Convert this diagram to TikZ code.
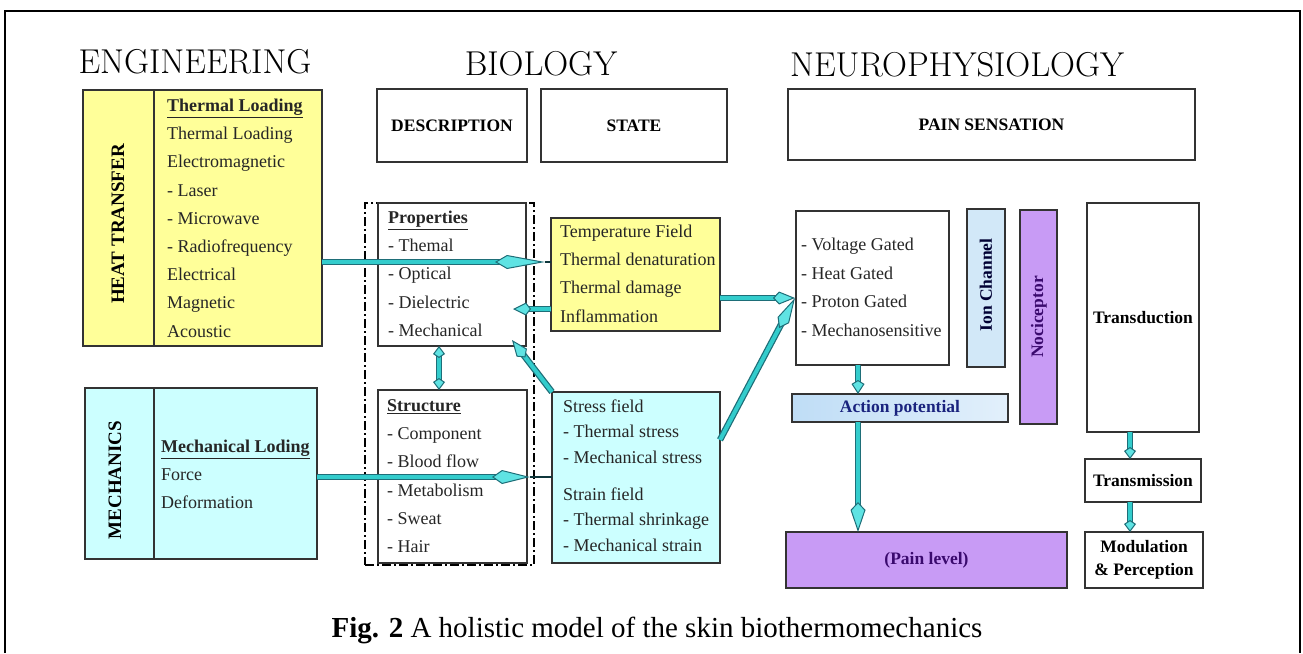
\documentclass[tikz,border=0pt]{standalone}
\usepackage{fontspec}
\newfontfamily\tnr{Liberation Serif}
\usetikzlibrary{arrows.meta,calc}
\definecolor{ylw}{HTML}{FFFF99}
\definecolor{cyb}{HTML}{CCFFFF}
\definecolor{ionb}{HTML}{D2E8F8}
\definecolor{apb}{HTML}{BFDDF6}
\definecolor{purp}{HTML}{C89BF5}
\definecolor{arrc}{HTML}{33CCCC}
\definecolor{arrd}{HTML}{1E6E78}
\definecolor{arrh}{HTML}{5FE3E3}
\definecolor{dpurp}{HTML}{3A0A6E}
\definecolor{navy2}{HTML}{1A237E}
\definecolor{edge}{HTML}{333333}
\newcommand\lns[1]{\begin{tabular}[t]{@{}l@{}}#1\end{tabular}}
\newcommand\mkbox[7]{\node[#1, minimum width={#5pt-#3pt}, minimum height={#6pt-#4pt}] (#2) at ({(#3+#5)/2},{(#4+#6)/2}) {#7};}
\begin{document}
\begin{tikzpicture}[x=1pt,y=-1pt,
 bx/.style={draw=edge, line width=1.8pt, inner sep=0pt, outer sep=0pt},
 lbl/.style={font=\tnr\bfseries\fontsize{17.5}{23}\selectfont, align=center},
 body/.style={font=\tnr\fontsize{18}{28.2}\selectfont, inner sep=0pt, anchor=base west, text=black!85},
 head/.style={font=\fontsize{34.5}{38}\selectfont, inner sep=0pt},
 vert/.style={rotate=90, inner sep=0pt, font=\tnr\bfseries\fontsize{19}{22}\selectfont},
 flow/.style n args={3}{draw=arrc, line width=0.8pt,
   -{Kite[length=#1pt, width=#2pt, inset=#3pt, fill=arrh, color=arrd, line width=1pt]},
   preaction={draw=arrd, line width=6.5pt, arrows=-, shorten >={#1pt-#3pt}},
   preaction={draw=arrc, line width=4pt, arrows=-, shorten >={#1pt-#3pt}}},
 flowd/.style n args={3}{draw=arrc, line width=0.8pt,
   {Kite[length=#1pt, width=#2pt, inset=#3pt, fill=arrh, color=arrd, line width=1pt]}-{Kite[length=#1pt, width=#2pt, inset=#3pt, fill=arrh, color=arrd, line width=1pt]},
   preaction={draw=arrd, line width=6.5pt, arrows=-, shorten >={#1pt-#3pt}, shorten <={#1pt-#3pt}},
   preaction={draw=arrc, line width=4pt, arrows=-, shorten >={#1pt-#3pt}, shorten <={#1pt-#3pt}}},
 thinl/.style={draw=arrd!50!black, line width=1.2pt}]
\useasboundingbox (0,0) rectangle (1303,653);
\draw[line width=1.4pt] (5,653) -- (5,11) -- (1300,11) -- (1300,653);
% headings
\node[head] (eng) at (195,62) {ENGINEERING};
\node[head] (bio) at (541,64) {BIOLOGY};
\node[head] (neuro) at (957,65) {NEUROPHYSIOLOGY};
% engineering boxes
\mkbox{bx,fill=ylw}{heatL}{83}{90}{154}{346}{}
\mkbox{bx,fill=ylw}{heatR}{154}{90}{322}{346}{}
\mkbox{bx,fill=cyb}{mechL}{85}{388}{154}{559}{}
\mkbox{bx,fill=cyb}{mechR}{154}{388}{317}{559}{}
\node[vert] (heatT) at (118,224) {HEAT TRANSFER};
\node[vert] (mechT) at (115,480) {MECHANICS};
\node[body] (heatList) at (167,111.5) {\lns{\underline{\textbf{Thermal Loading}}\\Thermal Loading\\Electromagnetic\\- Laser\\- Microwave\\- Radiofrequency\\Electrical\\Magnetic\\Acoustic}};
\node[body] (mechList) at (161,452.5) {\lns{\underline{\textbf{Mechanical Loding}}\\Force\\Deformation}};
% biology
\mkbox{bx,lbl}{desc}{377}{89}{527}{162}{DESCRIPTION}
\mkbox{bx,lbl}{state}{541}{89}{727}{162}{STATE}
\mkbox{draw=black, line width=1.4pt, dash pattern=on 9pt off 3pt on 2pt off 3pt, inner sep=0pt}{bioframe}{365}{203}{534}{565}{}
\mkbox{bx,fill=white}{props}{378}{203}{526}{346}{}
\mkbox{bx,fill=white}{struct}{378}{390}{527}{563}{}
\mkbox{bx,fill=ylw}{temp}{551}{218}{720}{331}{}
\mkbox{bx,fill=cyb}{stress}{552}{392}{720}{563}{}
\node[body] (propList) at (388,223.5) {\lns{\underline{\textbf{Properties}}\\- Themal\\- Optical\\- Dielectric\\- Mechanical}};
\node[body] (structList) at (387,411.5) {\lns{\underline{\textbf{Structure}}\\- Component\\- Blood flow\\- Metabolism\\- Sweat\\- Hair}};
\node[body] (tempList) at (560,237.5) {\lns{Temperature Field\\Thermal denaturation\\Thermal damage\\Inflammation}};
\node[body, font=\tnr\fontsize{18}{25.4}\selectfont] (stressList) at (563,412.5) {\lns{Stress field\\- Thermal stress\\- Mechanical stress\\[11.5pt]Strain field\\- Thermal shrinkage\\- Mechanical strain}};
% neurophysiology
\mkbox{bx,lbl}{painsens}{788}{89}{1195}{160}{PAIN SENSATION}
\mkbox{bx,fill=white}{gate}{796}{211}{949}{365}{}
\mkbox{bx,fill=ionb}{ionch}{967}{209}{1005}{367}{}
\mkbox{bx,fill=purp}{noci}{1020}{210}{1057}{424}{}
\mkbox{bx,lbl}{trand}{1087}{203}{1199}{432}{Transduction}
\mkbox{bx,lbl,left color=apb,right color=apb!45!white,text=navy2}{ap}{792}{394}{1008}{422}{Action potential}
\mkbox{bx,lbl,fill=purp,text=dpurp}{pain}{786}{532}{1067}{588}{(Pain level)}
\mkbox{bx,lbl}{transm}{1085}{459}{1201}{502}{Transmission}
\mkbox{bx,lbl}{modul}{1085}{532}{1203}{588}{Modulation\\\& Perception}
\node[body, font=\tnr\fontsize{18}{28.7}\selectfont] (gateList) at (801,250.5) {\lns{- Voltage Gated\\- Heat Gated\\- Proton Gated\\- Mechanosensitive}};
\node[vert, font=\tnr\bfseries\fontsize{17.5}{20}\selectfont, text=black!80!blue] (ionT) at (986,285) {Ion Channel};
\node[vert, font=\tnr\bfseries\fontsize{17.5}{20}\selectfont, text=dpurp] (nociT) at (1039,317) {Nociceptor};
% caption
\node[font=\tnr\fontsize{29}{32}\selectfont, inner sep=0pt] (cap) at (657,630) {\textbf{Fig. 2} A holistic model of the skin biothermomechanics};
% coordinates
\coordinate (a1e) at (545,262);
\coordinate (a2e) at (513,309);
\coordinate (a3e) at (512,340);
\coordinate (a4x) at (439,0);
\coordinate (a5e) at (530,477);
\coordinate (g1) at (795,298);
\coordinate (apx) at (858,0);
\coordinate (tx) at (1130,0);
% arrows
\draw[flow={50}{14}{12}] (heatR.east |- a1e) -- (a1e);
\draw[thinl] (a1e) -- (temp.west |- a1e);
\draw[flow={18}{13}{5}] (temp.west |- a2e) -- (a2e);
\draw[flow={22}{13}{6}] (stress.north west) -- (a3e);
\draw[flowd={12}{12}{4}] (a4x |- props.south) -- (a4x |- struct.north);
\draw[flow={38}{14}{10}] (mechR.east |- a5e) -- (a5e);
\draw[thinl] (a5e) -- (stress.west |- a5e);
\draw[flow={22}{13}{6}] (temp.east |- g1) -- (g1);
\draw[flow={34}{13}{9}] ($(stress.north east)!0.28!(stress.south east)$) -- (g1);
\draw[flow={14}{13}{4}] (apx |- gate.south) -- (apx |- ap.north);
\draw[flow={30}{15}{8}] (apx |- ap.south) -- (apx |- pain.north);
\draw[flow={12}{12}{4}] (tx |- trand.south) -- (tx |- transm.north);
\draw[flow={12}{12}{4}] (tx |- transm.south) -- (tx |- modul.north);
\end{tikzpicture}
\end{document}
